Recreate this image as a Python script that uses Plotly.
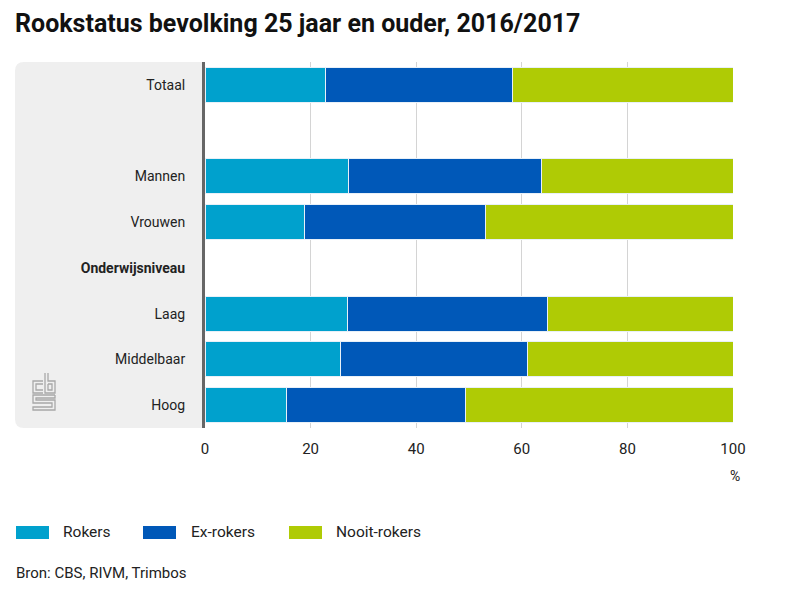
import plotly.graph_objects as go

# ---- data ----
categories = ["Totaal", "_blank", "Mannen", "Vrouwen", "Onderwijsniveau", "Laag", "Middelbaar", "Hoog"]
tick_labels = ["Totaal", "", "Mannen", "Vrouwen", "<b>Onderwijsniveau</b>", "Laag", "Middelbaar", "Hoog"]
rokers = [22.9, None, 27.1, 18.9, None, 27.0, 25.7, 15.5]
ex_rokers = [35.4, None, 36.7, 34.3, None, 37.8, 35.3, 33.9]
nooit_rokers = [41.7, None, 36.2, 46.8, None, 35.2, 39.0, 50.6]
series_names = ["Rokers", "Ex-rokers", "Nooit-rokers"]
x_ticks = [0, 20, 40, 60, 80, 100]

colors = ["#00a1cd", "#0058b8", "#afcb05"]
FONT = "Roboto"
W, H = 800, 600
OFF = 8  # page body margin
L, R, T, B = 205 - OFF, 733 - OFF, 62 - OFF, 428 - OFF


def px(x):
    return (x - OFF - L) / (R - L)


def py(y):
    return (B - (y - OFF)) / (B - T)


fig = go.Figure()
for name, vals, col in zip(series_names, [rokers, ex_rokers, nooit_rokers], colors):
    fig.add_trace(go.Bar(
        y=categories, x=vals, name=name, orientation="h",
        marker=dict(color=col, line=dict(color="#e8f0f8", width=1)),
        width=0.77, showlegend=False,
        hovertemplate="%{y}: %{x}<extra>" + name + "</extra>",
    ))

shapes = []
# grey rounded panel behind category labels
x0, x1, y0, y1 = px(15), px(205), py(428), py(62)
rx, ry = 9 / (R - L), 9 / (B - T)
shapes.append(dict(
    type="path", xref="paper", yref="paper", layer="below",
    path=(f"M {x1},{y1} L {x0+rx},{y1} Q {x0},{y1} {x0},{y1-ry} "
          f"L {x0},{y0+ry} Q {x0},{y0} {x0+rx},{y0} L {x1},{y0} Z"),
    fillcolor="#efefef", line=dict(width=0),
))

# cbs logo (decorative)
def pth(pts):
    s = f"M {px(pts[0][0])},{py(pts[0][1])}"
    for a, b in pts[1:]:
        s += f" L {px(a)},{py(b)}"
    return s

logo_paths = [
    [(43, 381), (33, 381), (33, 393), (43, 393)],
    [(43, 384), (36, 384), (36, 390), (43, 390)],
    [(45, 373), (45, 393), (55, 393), (55, 381), (48, 381), (48, 373)],
    [(48, 384), (48, 390), (52, 390), (52, 384), (48, 384)],
    [(55, 395), (33, 395), (33, 403), (52, 403), (52, 407), (33, 407), (33, 410), (55, 410), (55, 400), (36, 400), (36, 398), (55, 398), (55, 395)],
]
for p in logo_paths:
    shapes.append(dict(type="path", xref="paper", yref="paper", path=pth(p),
                       line=dict(color="#a8a8a8", width=1.3)))

# legend swatches
legend_x = [16, 143, 289]
label_x = [61, 189, 334]
for lx, col in zip(legend_x, colors):
    shapes.append(dict(type="rect", xref="paper", yref="paper",
                       x0=px(lx), x1=px(lx + 33), y0=py(539), y1=py(526),
                       fillcolor=col, line=dict(width=0)))

annotations = []
for tx, name in zip(label_x, series_names):
    annotations.append(dict(xref="paper", yref="paper", x=px(tx), y=py(532),
                            text=name, showarrow=False, xanchor="left", yanchor="middle",
                            font=dict(family=FONT, size=15.5, color="#222")))
annotations.append(dict(xref="paper", yref="paper", x=px(14), y=py(573),
                        text="Bron: CBS, RIVM, Trimbos", showarrow=False,
                        xanchor="left", yanchor="middle",
                        font=dict(family=FONT, size=15, color="#222")))
annotations.append(dict(xref="x", yref="paper", x=100, y=py(476), text="%",
                        showarrow=False, xanchor="center", yanchor="middle", xshift=2,
                        font=dict(family=FONT, size=14, color="#222")))

fig.update_layout(
    width=W, height=H,
    margin=dict(l=L, r=W - R, t=T, b=H - B),
    paper_bgcolor="white", plot_bgcolor="white",
    barmode="stack", bargap=0.23,
    title=dict(text="<b>Rookstatus bevolking 25 jaar en ouder, 2016/2017</b>",
               x=(15 - OFF) / W, xanchor="left", xref="container",
               y=1 - 6 / H, yanchor="top", yref="container",
               pad=dict(t=0, b=0, l=0, r=0),
               font=dict(family=FONT, size=25, color="#111")),
    xaxis=dict(range=[0, 100], tickvals=x_ticks, showgrid=True, gridcolor="#d4d4d4",
               gridwidth=1, zeroline=False, showline=False, ticks="",
               ticklabelstandoff=10,
               tickfont=dict(family=FONT, size=15, color="#222"), fixedrange=True),
    yaxis=dict(categoryorder="array", categoryarray=categories,
               tickvals=categories, ticktext=tick_labels,
               autorange="reversed", showgrid=False, zeroline=False,
               showline=True, linecolor="#666666", linewidth=3, ticks="",
               ticklabelstandoff=14,
               tickfont=dict(family=FONT, size=14, color="#222")),
    shapes=shapes, annotations=annotations,
)

fig.write_html("out.html")
